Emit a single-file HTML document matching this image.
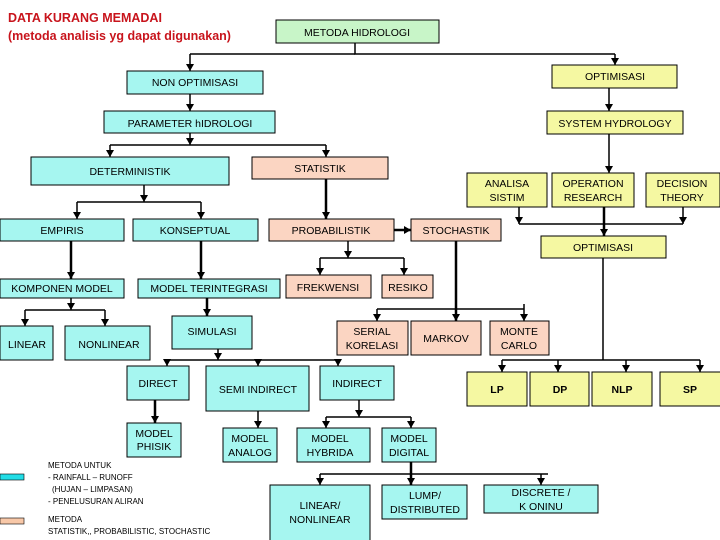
<!DOCTYPE html>
<html><head><meta charset="utf-8"><style>
html,body{margin:0;padding:0;background:#fff;}
svg{display:block;font-family:"Liberation Sans",sans-serif;}
text{font-size:10.5px;fill:#000;}
.c{fill:#a6f6f0;stroke:#000;stroke-width:1}
.p{fill:#fbd5c2;stroke:#000;stroke-width:1}
.y{fill:#f5f8a2;stroke:#000;stroke-width:1}
.g{fill:#c8f5c8;stroke:#000;stroke-width:1}
.l{stroke:#000;stroke-width:1.5;fill:none}
.t{stroke:#000;stroke-width:2.5;fill:none}
</style></head><body>
<svg width="720" height="540" viewBox="0 0 720 540">
<defs><marker id="a" markerWidth="8" markerHeight="8" refX="7" refY="4" orient="auto" markerUnits="userSpaceOnUse"><path d="M0,0 L7,4 L0,8 z" fill="#000"/></marker>
<marker id="r" markerWidth="8" markerHeight="8" refX="7" refY="4" orient="auto" markerUnits="userSpaceOnUse"><path d="M0,0 L7,4 L0,8 z" fill="#000"/></marker></defs>

<text x="8" y="22" style="font-size:12.5px;font-weight:bold;fill:#c8141c">DATA KURANG MEMADAI</text>
<text x="8" y="40" style="font-size:12.5px;font-weight:bold;fill:#c8141c">(metoda analisis yg dapat digunakan)</text>

<g class="l">
<path d="M355,43 V54 H615"/><path d="M355,54 H190"/>
<path d="M190,54 V71" marker-end="url(#a)"/><path d="M615,54 V65" marker-end="url(#a)"/>
<path d="M190,94 V111" marker-end="url(#a)"/>
<path d="M190,133 V145" marker-end="url(#a)"/>
<path d="M110,145 H326"/><path d="M110,145 V157" marker-end="url(#a)"/><path d="M326,145 V157" marker-end="url(#a)"/>
<path d="M609,88 V111" marker-end="url(#a)"/>
<path d="M609,134 V173" marker-end="url(#a)"/>
<path d="M519,224 H683"/><path d="M519,207 V224" marker-end="url(#a)"/><path d="M683,207 V224" marker-end="url(#a)"/>
<path d="M144,185 V202" marker-end="url(#a)"/>
<path d="M77,202 H201"/><path d="M77,202 V219" marker-end="url(#a)"/><path d="M201,202 V219" marker-end="url(#a)"/>
<path d="M348,241 V258" marker-end="url(#a)"/>
<path d="M320,258 H404"/><path d="M320,258 V275" marker-end="url(#a)"/><path d="M404,258 V275" marker-end="url(#a)"/>
<path d="M603,258 V360"/>
<path d="M502,360 H700"/><path d="M502,360 V372" marker-end="url(#a)"/><path d="M558,360 V372" marker-end="url(#a)"/><path d="M626,360 V372" marker-end="url(#a)"/><path d="M700,360 V372" marker-end="url(#a)"/>
<path d="M377,309 H524"/><path d="M377,309 V321" marker-end="url(#a)"/><path d="M524,304 V321" marker-end="url(#a)"/>
<path d="M71,298 V310" marker-end="url(#a)"/>
<path d="M25,310 H105"/><path d="M25,310 V326" marker-end="url(#a)"/><path d="M105,310 V326" marker-end="url(#a)"/>
<path d="M218,349 V360" marker-end="url(#a)"/>
<path d="M167,360 H338"/><path d="M167,360 V366" marker-end="url(#a)"/><path d="M258,360 V366" marker-end="url(#a)"/><path d="M338,360 V366" marker-end="url(#a)"/>
<path d="M258,411 V428" marker-end="url(#a)"/>
<path d="M359,400 V417" marker-end="url(#a)"/>
<path d="M326,417 H411"/><path d="M326,417 V428" marker-end="url(#a)"/><path d="M411,417 V428" marker-end="url(#a)"/>
<path d="M320,474 H548"/><path d="M320,474 V485" marker-end="url(#a)"/><path d="M541,474 V485" marker-end="url(#a)"/>
</g>
<g class="t">
<path d="M604,207 V236" marker-end="url(#a)"/>
<path d="M326,179 V219" marker-end="url(#a)"/>
<path d="M394,230 H411" marker-end="url(#r)"/>
<path d="M456,241 V321" marker-end="url(#a)"/>
<path d="M71,241 V279" marker-end="url(#a)"/>
<path d="M201,241 V279" marker-end="url(#a)"/>
<path d="M207,298 V316" marker-end="url(#a)"/>
<path d="M155,400 V423" marker-end="url(#a)"/>
<path d="M411,462 V485" marker-end="url(#a)"/>
</g>

<rect class="g" x="276" y="20" width="163" height="23"/><text x="357" y="36" text-anchor="middle">METODA HIDROLOGI</text>
<rect class="c" x="127" y="71" width="136" height="23"/><text x="195" y="86" text-anchor="middle">NON OPTIMISASI</text>
<rect class="y" x="552" y="65" width="125" height="23"/><text x="615" y="80" text-anchor="middle">OPTIMISASI</text>
<rect class="c" x="104" y="111" width="171" height="22"/><text x="190" y="127" text-anchor="middle">PARAMETER hIDROLOGI</text>
<rect class="y" x="547" y="111" width="136" height="23"/><text x="615" y="127" text-anchor="middle">SYSTEM HYDROLOGY</text>
<rect class="c" x="31" y="157" width="198" height="28"/><text x="130" y="175" text-anchor="middle">DETERMINISTIK</text>
<rect class="p" x="252" y="157" width="136" height="22"/><text x="320" y="172" text-anchor="middle">STATISTIK</text>
<rect class="y" x="467" y="173" width="80" height="34"/><text x="507" y="187" text-anchor="middle">ANALISA</text><text x="507" y="201" text-anchor="middle">SISTIM</text>
<rect class="y" x="552" y="173" width="82" height="34"/><text x="593" y="187" text-anchor="middle">OPERATION</text><text x="593" y="201" text-anchor="middle">RESEARCH</text>
<rect class="y" x="646" y="173" width="74" height="34"/><text x="682" y="187" text-anchor="middle">DECISION</text><text x="682" y="201" text-anchor="middle">THEORY</text>
<rect class="c" x="0" y="219" width="124" height="22"/><text x="62" y="234" text-anchor="middle">EMPIRIS</text>
<rect class="c" x="133" y="219" width="125" height="22"/><text x="195" y="234" text-anchor="middle">KONSEPTUAL</text>
<rect class="p" x="269" y="219" width="125" height="22"/><text x="331" y="234" text-anchor="middle">PROBABILISTIK</text>
<rect class="p" x="411" y="219" width="90" height="22"/><text x="456" y="234" text-anchor="middle">STOCHASTIK</text>
<rect class="y" x="541" y="236" width="125" height="22"/><text x="603" y="251" text-anchor="middle">OPTIMISASI</text>
<rect class="c" x="0" y="279" width="124" height="19"/><text x="62" y="292" text-anchor="middle">KOMPONEN MODEL</text>
<rect class="c" x="138" y="279" width="142" height="19"/><text x="209" y="292" text-anchor="middle">MODEL TERINTEGRASI</text>
<rect class="p" x="286" y="275" width="85" height="23"/><text x="328" y="291" text-anchor="middle">FREKWENSI</text>
<rect class="p" x="382" y="275" width="51" height="23"/><text x="408" y="291" text-anchor="middle">RESIKO</text>
<rect class="c" x="0" y="326" width="53" height="34"/><text x="27" y="348" text-anchor="middle">LINEAR</text>
<rect class="c" x="65" y="326" width="85" height="34"/><text x="109" y="348" text-anchor="middle">NONLINEAR</text>
<rect class="c" x="172" y="316" width="80" height="33"/><text x="212" y="335" text-anchor="middle">SIMULASI</text>
<rect class="p" x="337" y="321" width="71" height="34"/><text x="372" y="335" text-anchor="middle">SERIAL</text><text x="372" y="349" text-anchor="middle">KORELASI</text>
<rect class="p" x="411" y="321" width="70" height="34"/><text x="446" y="342" text-anchor="middle">MARKOV</text>
<rect class="p" x="490" y="321" width="59" height="34"/><text x="519" y="335" text-anchor="middle">MONTE</text><text x="519" y="349" text-anchor="middle">CARLO</text>
<rect class="y" x="467" y="372" width="60" height="34"/><text x="497" y="393" text-anchor="middle" style="font-weight:bold">LP</text>
<rect class="y" x="530" y="372" width="59" height="34"/><text x="560" y="393" text-anchor="middle" style="font-weight:bold">DP</text>
<rect class="y" x="592" y="372" width="60" height="34"/><text x="622" y="393" text-anchor="middle" style="font-weight:bold">NLP</text>
<rect class="y" x="660" y="372" width="62" height="34"/><text x="690" y="393" text-anchor="middle" style="font-weight:bold">SP</text>
<rect class="c" x="127" y="366" width="62" height="34"/><text x="158" y="387" text-anchor="middle">DIRECT</text>
<rect class="c" x="206" y="366" width="103" height="45"/><text x="258" y="393" text-anchor="middle">SEMI INDIRECT</text>
<rect class="c" x="320" y="366" width="74" height="34"/><text x="357" y="387" text-anchor="middle">INDIRECT</text>
<rect class="c" x="127" y="423" width="54" height="34"/><text x="154" y="437" text-anchor="middle">MODEL</text><text x="154" y="450" text-anchor="middle">PHISIK</text>
<rect class="c" x="223" y="428" width="54" height="34"/><text x="250" y="442" text-anchor="middle">MODEL</text><text x="250" y="456" text-anchor="middle">ANALOG</text>
<rect class="c" x="297" y="428" width="73" height="34"/><text x="330" y="442" text-anchor="middle">MODEL</text><text x="330" y="456" text-anchor="middle">HYBRIDA</text>
<rect class="c" x="382" y="428" width="54" height="34"/><text x="409" y="442" text-anchor="middle">MODEL</text><text x="409" y="456" text-anchor="middle">DIGITAL</text>
<rect class="c" x="270" y="485" width="100" height="56"/><text x="320" y="509" text-anchor="middle">LINEAR/</text><text x="320" y="523" text-anchor="middle">NONLINEAR</text>
<rect class="c" x="382" y="485" width="85" height="34"/><text x="425" y="499" text-anchor="middle">LUMP/</text><text x="425" y="513" text-anchor="middle">DISTRIBUTED</text>
<rect class="c" x="484" y="485" width="114" height="28"/><text x="541" y="496" text-anchor="middle">DISCRETE /</text><text x="541" y="510" text-anchor="middle">K ONINU</text>

<rect x="0" y="474" width="24" height="6" fill="#22dde6" stroke="#000" stroke-width="0.6"/>
<rect x="0" y="518" width="24" height="6" fill="#f8c8a8" stroke="#000" stroke-width="0.6"/>
<text x="48" y="468" style="font-size:8px">METODA UNTUK</text>
<text x="48" y="480" style="font-size:8px">- RAINFALL – RUNOFF</text>
<text x="52" y="492" style="font-size:8px">(HUJAN – LIMPASAN)</text>
<text x="48" y="504" style="font-size:8px">- PENELUSURAN ALIRAN</text>
<text x="48" y="522" style="font-size:8px">METODA</text>
<text x="48" y="534" style="font-size:8px">STATISTIK,, PROBABILISTIC, STOCHASTIC</text>
</svg>
</body></html>
